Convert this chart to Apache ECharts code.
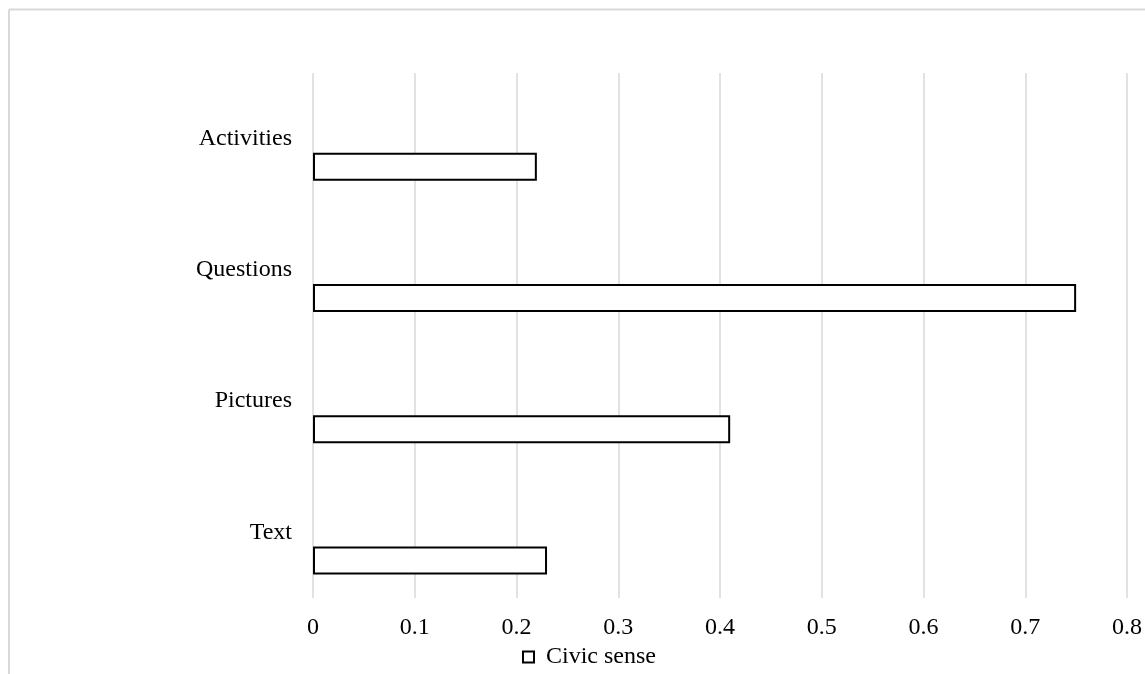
<!DOCTYPE html>
<html>
<head>
<meta charset="utf-8">
<script src="https://cdn.jsdelivr.net/npm/echarts@6/dist/echarts.min.js"></script>
<style>
  html, body { margin: 0; padding: 0; background: #fff; }
  #chart { width: 1145px; height: 674px; }
</style>
</head>
<body>
<div id="chart"></div>
<script>
// Categories listed bottom to top along the category axis
const categories = ['Text', 'Pictures', 'Questions', 'Activities'];
const civicSense = [0.23, 0.41, 0.75, 0.22];
const xTicks = { min: 0, max: 0.8, interval: 0.1 };

const serif = 'Liberation Serif, Times New Roman, serif';

const chart = echarts.init(document.getElementById('chart'), null, { renderer: 'canvas' });

chart.setOption({
  backgroundColor: '#fff',
  animation: false,
  // chart-area frame: only its top and left edges fall inside the page
  graphic: [
    {
      type: 'line', silent: true,
      shape: { x1: 9, y1: 9.5, x2: 1145, y2: 9.5 },
      style: { stroke: '#d9d9d9', lineWidth: 2 }
    },
    {
      type: 'line', silent: true,
      shape: { x1: 9, y1: 9.5, x2: 9, y2: 674 },
      style: { stroke: '#d9d9d9', lineWidth: 2 }
    }
  ],
  grid: { left: 313, right: 13, top: 73, bottom: 76, containLabel: false },
  legend: {
    data: ['Civic sense'],
    top: 640,
    left: 517,
    itemWidth: 11,
    itemHeight: 11,
    itemGap: 10,
    icon: 'rect',
    textStyle: { fontFamily: serif, fontSize: 24, color: '#000', padding: [0, 0, 0, 7] }
  },
  xAxis: {
    type: 'value',
    min: xTicks.min,
    max: xTicks.max,
    interval: xTicks.interval,
    axisLine: { show: false },
    axisTick: { show: false },
    splitLine: { show: true, lineStyle: { color: '#d9d9d9', width: 1.5 } },
    axisLabel: {
      fontFamily: serif, fontSize: 24, color: '#000', margin: 18,
      showMaxLabel: true,
      formatter: v => String(Math.round(v * 10) / 10)
    }
  },
  yAxis: {
    type: 'category',
    data: categories,
    axisLine: { show: false },
    axisTick: { show: false },
    splitLine: { show: false },
    axisLabel: { fontFamily: serif, fontSize: 24, color: '#000', margin: 21 }
  },
  series: [
    {
      // empty upper slot in each category band
      name: 'spacer',
      type: 'bar',
      data: categories.map(() => null),
      barWidth: 28,
      barGap: '100%',
      silent: true
    },
    {
      name: 'Civic sense',
      type: 'bar',
      data: civicSense,
      barWidth: 28,
      barGap: '100%',
      itemStyle: { color: '#fff', borderColor: '#000', borderWidth: 2 }
    }
  ]
});
</script>
</body>
</html>
